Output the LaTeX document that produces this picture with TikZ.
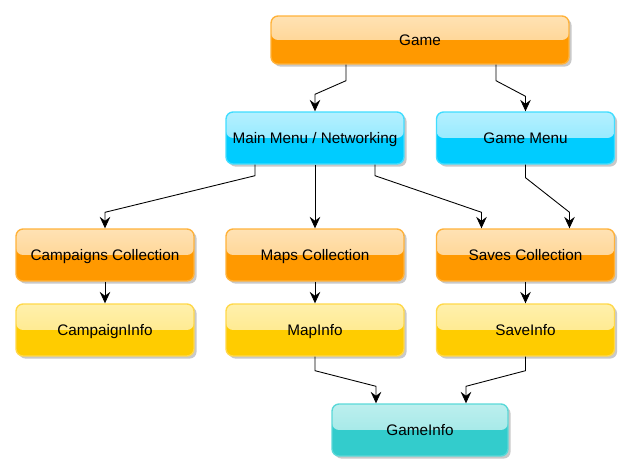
\documentclass[tikz,border=0pt]{standalone}
\usepackage{fontspec}
\setmainfont{Liberation Sans}
\usetikzlibrary{arrows.meta,shadows,calc}
\definecolor{orangeline}{HTML}{FFB23A}
\definecolor{orangetop}{HTML}{FFE2B4}
\definecolor{orangebot}{HTML}{FF9900}
\definecolor{blueline}{HTML}{40DDFF}
\definecolor{bluetop}{HTML}{B4F0FF}
\definecolor{bluebot}{HTML}{00CCFF}
\definecolor{yellowline}{HTML}{FFD84A}
\definecolor{yellowtop}{HTML}{FFF0AC}
\definecolor{yellowbot}{HTML}{FFCC00}
\definecolor{tealline}{HTML}{5AD8D8}
\definecolor{tealtop}{HTML}{BCEFEE}
\definecolor{tealbot}{HTML}{33CCCC}

\begin{document}
\begin{tikzpicture}[x=0.02cm,y=-0.02cm,
    box/.style={rounded corners=4pt,minimum width=3.56cm,minimum height=1.04cm,
        line width=0.8pt,font=\fontsize{8.7}{10}\selectfont,
        text height=6.3pt,text depth=0pt,
        drop shadow={shadow xshift=1.5pt,shadow yshift=-1.5pt,opacity=0.3,fill=black!70}},
    glossy/.style n args={3}{draw=#1,fill=#3,
        path picture={\shade[top color=#2,bottom color=#2!70!#3]
            (path picture bounding box.north west) rectangle (path picture bounding box.east);}},
    orangebox/.style={box,glossy={orangeline}{orangetop}{orangebot}},
    bluebox/.style={box,glossy={blueline}{bluetop}{bluebot}},
    yellowbox/.style={box,glossy={yellowline}{yellowtop}{yellowbot}},
    tealbox/.style={box,glossy={tealline}{tealtop}{tealbot}},
    arr/.style={-{Stealth[length=6.5pt,width=6pt,inset=2.2pt]},line width=0.5pt}]
    \useasboundingbox (0,0) rectangle (630,473);

    \node [orangebox,minimum width=5.96cm,minimum height=0.96cm] (game) at (420,40) {Game};
    \node [bluebox] (mainmenu) at (315,138) {Main Menu / Networking};
    \node [bluebox] (gamemenu) at (525.5,138) {Game Menu};

    \node [orangebox] (campaigns) at (105,255) {Campaigns Collection};
    \node [orangebox] (maps) at (315,255) {Maps Collection};
    \node [orangebox] (saves) at (525.5,255) {Saves Collection};

    \node [yellowbox] (campaigninfo) at (105,330) {CampaignInfo};
    \node [yellowbox] (mapinfo) at (315,330) {MapInfo};
    \node [yellowbox] (saveinfo) at (525.5,330) {SaveInfo};

    \node [tealbox,minimum width=3.52cm] (gameinfo) at (420,430) {GameInfo};

    \draw[arr] (game.south) ++(-74,0) -- ++(0,16) -- ($(mainmenu.north)+(0,-17)$) -- (mainmenu.north);
    \draw[arr] (game.south) ++(76,0) -- ++(0,16) -- ($(gamemenu.north)+(0,-15)$) -- (gamemenu.north);

    \draw[arr] (mainmenu.south) ++(-60,0) -- ++(0,11) -- ($(campaigns.north)+(0,-16)$) -- (campaigns.north);
    \draw[arr] (mainmenu.south) -- (maps.north);
    \draw[arr] (mainmenu.south) ++(60,0) -- ++(0,11) -- ($(saves.north)+(-44,-16)$) -- ($(saves.north)+(-44,0)$);
    \draw[arr] (gamemenu.south) -- ++(0,13) -- ($(saves.north)+(44,-16)$) -- ($(saves.north)+(44,0)$);

    \draw[arr] (campaigns.south) -- (campaigninfo.north);
    \draw[arr] (maps.south) -- (mapinfo.north);
    \draw[arr] (saves.south) -- (saveinfo.north);

    \draw[arr] (mapinfo.south) -- ++(0,14) -- ($(gameinfo.north)+(-44,-17)$) -- ($(gameinfo.north)+(-44,0)$);
    \draw[arr] (saveinfo.south) -- ++(0,14) -- ($(gameinfo.north)+(46,-17)$) -- ($(gameinfo.north)+(46,0)$);
\end{tikzpicture}
\end{document}
